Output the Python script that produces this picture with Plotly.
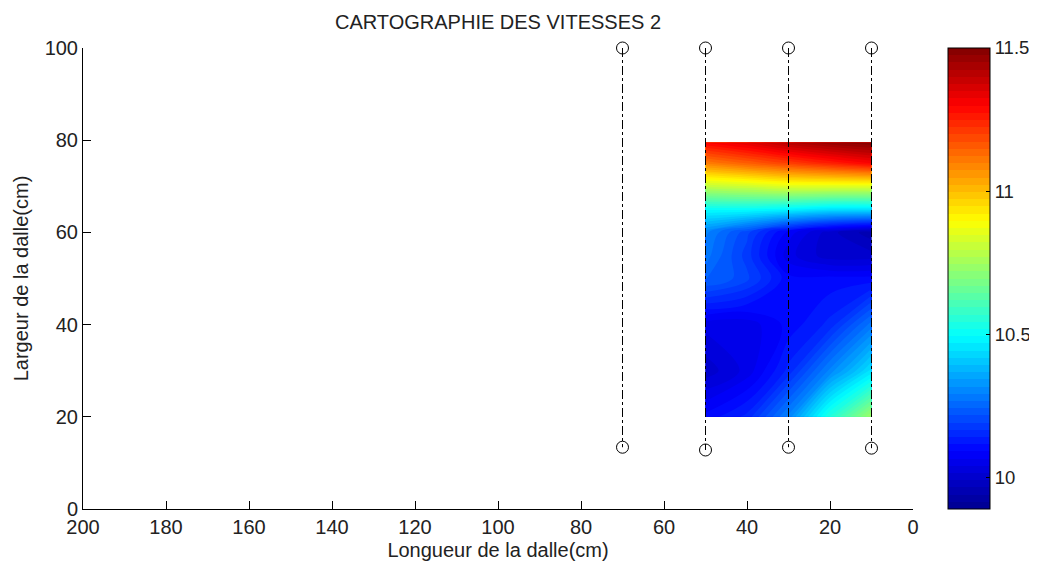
import plotly.graph_objects as go

# ---- data ----
x_map = [50, 40, 30, 20, 10]
y_map = [20, 30, 40, 50, 55, 60, 65, 70, 75, 79.5]
z_map = [
    [10.10, 10.15, 10.30, 10.55, 10.75],
    [10.00, 10.05, 10.15, 10.30, 10.45],
    [10.05, 10.05, 10.10, 10.15, 10.28],
    [10.25, 10.20, 10.10, 10.10, 10.10],
    [10.28, 10.18, 10.05, 10.00, 10.00],
    [10.30, 10.20, 10.08, 10.00, 9.95],
    [10.50, 10.50, 10.48, 10.45, 10.45],
    [10.80, 10.82, 10.85, 10.85, 10.85],
    [11.10, 11.15, 11.20, 11.25, 11.30],
    [11.30, 11.35, 11.42, 11.47, 11.50],
]
sensor_x = [70, 50, 30, 10]
sensor_top = [100, 100, 100, 100]
sensor_bottom = [13.4, 12.8, 13.4, 13.2]

cmin, cmax = 9.89, 11.5
jet = [
    [0.0, "rgb(0,0,143)"], [0.125, "rgb(0,0,255)"], [0.375, "rgb(0,255,255)"],
    [0.625, "rgb(255,255,0)"], [0.875, "rgb(255,0,0)"], [1.0, "rgb(128,0,0)"],
]
font = "Liberation Sans, Arial, sans-serif"
fs = 20
tc = "#222"

# page body has an 8px margin: figure placed at (8, 8)
W, H = 1029, 555
L, T = 75, 40
PW, PH = 830, 461

fig = go.Figure()
fig.add_trace(go.Contour(
    x=x_map, y=y_map, z=z_map,
    colorscale=jet, zmin=cmin, zmax=cmax,
    contours=dict(start=cmin, end=cmax, size=(cmax - cmin) / 64, coloring="fill", showlines=False),
    line=dict(width=0),
    colorbar=dict(
        x=(940 - L) / PW, xanchor="left", y=0.5, yanchor="middle", len=1.0, lenmode="fraction",
        thickness=42, thicknessmode="pixels",
        outlinecolor="black", outlinewidth=1,
        tickvals=[10, 10.5, 11, 11.5], ticktext=["10", "10.5", "11", "11.5"],
        ticks="inside", ticklen=4, tickcolor="black",
        tickfont=dict(family=font, size=18.5, color=tc),
        xpad=0, ypad=0,
    ),
    showscale=True,
))
for sx, st, sb in zip(sensor_x, sensor_top, sensor_bottom):
    fig.add_trace(go.Scatter(
        x=[sx, sx], y=[st, sb], mode="lines+markers",
        line=dict(color="black", width=1, dash="dashdot"),
        marker=dict(symbol="circle-open", size=12, color="black", line=dict(width=1)),
        showlegend=False, hoverinfo="skip", cliponaxis=False,
    ))

fig.update_layout(
    width=W, height=H,
    margin=dict(l=L, r=W - L - PW, t=T, b=H - T - PH, autoexpand=False),
    paper_bgcolor="white", plot_bgcolor="white",
    title=dict(text="CARTOGRAPHIE DES VITESSES 2", x=(L + PW / 2) / W, xanchor="center",
               y=1 - 14 / H, yanchor="middle", font=dict(family=font, size=fs, color=tc)),
    xaxis=dict(
        range=[200, 0], tickvals=list(range(0, 201, 20)),
        ticks="inside", ticklen=8, tickcolor="black",
        showline=True, linecolor="black", linewidth=1, mirror=False,
        showgrid=False, zeroline=False, automargin=False,
        tickfont=dict(family=font, size=fs, color=tc),
        title=dict(text="Longueur de la dalle(cm)", font=dict(family=font, size=fs, color=tc), standoff=5),
    ),
    yaxis=dict(
        range=[0, 100], tickvals=list(range(0, 101, 20)),
        ticks="inside", ticklen=8, tickcolor="black",
        showline=True, linecolor="black", linewidth=1, mirror=False,
        showgrid=False, zeroline=False, automargin=False,
        tickfont=dict(family=font, size=fs, color=tc),
        title=dict(text="Largeur de la dalle(cm)", font=dict(family=font, size=fs, color=tc), standoff=10),
    ),
)
fig.write_html("out.html")
